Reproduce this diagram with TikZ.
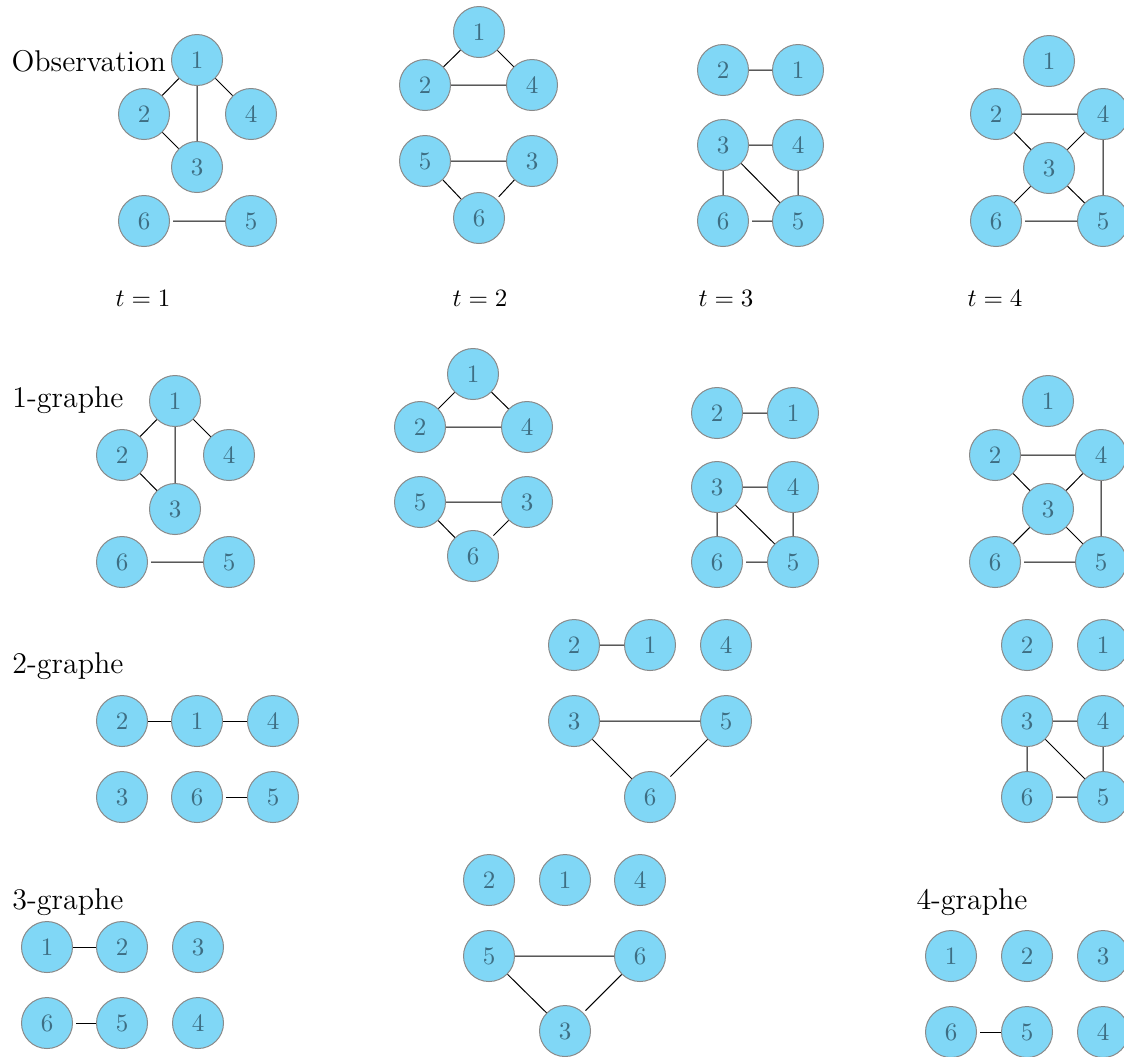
\documentclass[tikz,border=0pt]{standalone}
\usepackage{xcolor}
\usepackage{tikz}

\begin{document}
\begin{tikzpicture}[x=0.4pt,y=-0.4pt,
  sommet/.style={circle, draw=bordGris, fill=bleuSommet, text=texteSommet,
    minimum size=20.4pt, inner sep=0pt},
  arete/.style={draw=black, line width=0.4pt, shorten <=1.2pt},
  titre/.style={anchor=base west, inner sep=0pt, font=\large}]

% Couleurs
\definecolor{bleuSommet}{HTML}{80D7F6}
\definecolor{bordGris}{HTML}{8A8A8A}
\definecolor{texteSommet}{HTML}{3E6E83}

\useasboundingbox (0,0) rectangle (1124,1056);
\clip (0,0) rectangle (1124,1056);

% Titres des lignes
\node[titre] (lObs) at (11,71) {Observation};
\node[titre] (lUn) at (12,407) {1-graphe};
\node[titre] (lDeux) at (12,673) {2-graphe};
\node[titre] (lTrois) at (12,909) {3-graphe};
\node[titre] (lQuatre) at (916,909) {4-graphe};

% Instants
\node[anchor=base] (t1) at (143,306) {$t=1$};
\node[anchor=base] (t2) at (480,306) {$t=2$};
\node[anchor=base] (t3) at (726,306) {$t=3$};
\node[anchor=base] (t4) at (995,306) {$t=4$};

% Observation, t=1
\node[sommet] (o1v1) at (197,60) {$1$};
\node[sommet] (o1v2) at (144,114) {$2$};
\node[sommet] (o1v4) at (251,114) {$4$};
\node[sommet] (o1v3) at (197,167) {$3$};
\node[sommet] (o1v6) at (144,221) {$6$};
\node[sommet] (o1v5) at (251,221) {$5$};
\draw[arete] (o1v2) -- (o1v1) (o1v1) -- (o1v3) (o1v4) -- (o1v1)
  (o1v2) -- (o1v3) (o1v6) -- (o1v5);

% Observation, t=2
\node[sommet] (o2v1) at (479,32) {$1$};
\node[sommet] (o2v2) at (425,85) {$2$};
\node[sommet] (o2v4) at (532,85) {$4$};
\node[sommet] (o2v5) at (425,161) {$5$};
\node[sommet] (o2v3) at (532,161) {$3$};
\node[sommet] (o2v6) at (479,218) {$6$};
\draw[arete] (o2v2) -- (o2v1) (o2v1) -- (o2v4) (o2v2) -- (o2v4)
  (o2v5) -- (o2v3) (o2v5) -- (o2v6) (o2v6) -- (o2v3);

% Observation, t=3
\node[sommet] (o3v2) at (723,70) {$2$};
\node[sommet] (o3v1) at (798,70) {$1$};
\node[sommet] (o3v3) at (723,145) {$3$};
\node[sommet] (o3v4) at (798,145) {$4$};
\node[sommet] (o3v6) at (723,221) {$6$};
\node[sommet] (o3v5) at (798,221) {$5$};
\draw[arete] (o3v2) -- (o3v1) (o3v4) -- (o3v3) (o3v3) -- (o3v6)
  (o3v3) -- (o3v5) (o3v4) -- (o3v5) (o3v6) -- (o3v5);

% Observation, t=4
\node[sommet] (o4v1) at (1049,61) {$1$};
\node[sommet] (o4v2) at (996,114) {$2$};
\node[sommet] (o4v4) at (1103,114) {$4$};
\node[sommet] (o4v3) at (1049,168) {$3$};
\node[sommet] (o4v6) at (996,221) {$6$};
\node[sommet] (o4v5) at (1103,221) {$5$};
\draw[arete] (o4v2) -- (o4v4) (o4v2) -- (o4v3) (o4v3) -- (o4v4)
  (o4v4) -- (o4v5) (o4v3) -- (o4v6) (o4v3) -- (o4v5) (o4v6) -- (o4v5);

% 1-graphe, t=1
\node[sommet] (u1v1) at (175,401) {$1$};
\node[sommet] (u1v2) at (122,455) {$2$};
\node[sommet] (u1v4) at (229,455) {$4$};
\node[sommet] (u1v3) at (175,509) {$3$};
\node[sommet] (u1v6) at (122,562) {$6$};
\node[sommet] (u1v5) at (229,562) {$5$};
\draw[arete] (u1v2) -- (u1v1) (u1v1) -- (u1v3) (u1v4) -- (u1v1)
  (u1v2) -- (u1v3) (u1v6) -- (u1v5);

% 1-graphe, t=2
\node[sommet] (u2v1) at (473,374) {$1$};
\node[sommet] (u2v2) at (420,427) {$2$};
\node[sommet] (u2v4) at (527,427) {$4$};
\node[sommet] (u2v5) at (420,502) {$5$};
\node[sommet] (u2v3) at (527,502) {$3$};
\node[sommet] (u2v6) at (473,556) {$6$};
\draw[arete] (u2v2) -- (u2v1) (u2v1) -- (u2v4) (u2v2) -- (u2v4)
  (u2v5) -- (u2v3) (u2v5) -- (u2v6) (u2v6) -- (u2v3);

% 1-graphe, t=3
\node[sommet] (u3v2) at (717,413) {$2$};
\node[sommet] (u3v1) at (793,413) {$1$};
\node[sommet] (u3v3) at (717,487) {$3$};
\node[sommet] (u3v4) at (793,487) {$4$};
\node[sommet] (u3v6) at (717,562) {$6$};
\node[sommet] (u3v5) at (793,562) {$5$};
\draw[arete] (u3v2) -- (u3v1) (u3v4) -- (u3v3) (u3v3) -- (u3v6)
  (u3v3) -- (u3v5) (u3v4) -- (u3v5) (u3v6) -- (u3v5);

% 1-graphe, t=4
\node[sommet] (u4v1) at (1048,401) {$1$};
\node[sommet] (u4v2) at (995,455) {$2$};
\node[sommet] (u4v4) at (1101,455) {$4$};
\node[sommet] (u4v3) at (1048,509) {$3$};
\node[sommet] (u4v6) at (995,562) {$6$};
\node[sommet] (u4v5) at (1101,562) {$5$};
\draw[arete] (u4v2) -- (u4v4) (u4v2) -- (u4v3) (u4v3) -- (u4v4)
  (u4v4) -- (u4v5) (u4v3) -- (u4v6) (u4v3) -- (u4v5) (u4v6) -- (u4v5);

% 2-graphe, gauche
\node[sommet] (d1v2) at (122,721) {$2$};
\node[sommet] (d1v1) at (197,721) {$1$};
\node[sommet] (d1v4) at (273,721) {$4$};
\node[sommet] (d1v3) at (122,797) {$3$};
\node[sommet] (d1v6) at (197,797) {$6$};
\node[sommet] (d1v5) at (273,797) {$5$};
\draw[arete] (d1v2) -- (d1v1) (d1v4) -- (d1v1) (d1v6) -- (d1v5);

% 2-graphe, milieu
\node[sommet] (d2v2) at (574,645) {$2$};
\node[sommet] (d2v1) at (650,645) {$1$};
\node[sommet] (d2v4) at (726,645) {$4$};
\node[sommet] (d2v3) at (574,721) {$3$};
\node[sommet] (d2v5) at (726,721) {$5$};
\node[sommet] (d2v6) at (650,797) {$6$};
\draw[arete] (d2v2) -- (d2v1) (d2v3) -- (d2v5) (d2v3) -- (d2v6)
  (d2v6) -- (d2v5);

% 2-graphe, droite
\node[sommet] (d4v2) at (1027,645) {$2$};
\node[sommet] (d4v1) at (1103,645) {$1$};
\node[sommet] (d4v3) at (1027,721) {$3$};
\node[sommet] (d4v4) at (1103,721) {$4$};
\node[sommet] (d4v6) at (1027,797) {$6$};
\node[sommet] (d4v5) at (1103,797) {$5$};
\draw[arete] (d4v3) -- (d4v4) (d4v3) -- (d4v6) (d4v3) -- (d4v5)
  (d4v4) -- (d4v5) (d4v6) -- (d4v5);

% 3-graphe, gauche
\node[sommet] (r1v1) at (47,947) {$1$};
\node[sommet] (r1v2) at (122,947) {$2$};
\node[sommet] (r1v3) at (198,947) {$3$};
\node[sommet] (r1v6) at (47,1023) {$6$};
\node[sommet] (r1v5) at (122,1023) {$5$};
\node[sommet] (r1v4) at (198,1023) {$4$};
\draw[arete] (r1v1) -- (r1v2) (r1v6) -- (r1v5);

% 3-graphe, milieu
\node[sommet] (r2v2) at (489,880) {$2$};
\node[sommet] (r2v1) at (565,880) {$1$};
\node[sommet] (r2v4) at (640,880) {$4$};
\node[sommet] (r2v5) at (489,956) {$5$};
\node[sommet] (r2v6) at (640,956) {$6$};
\node[sommet] (r2v3) at (565,1031) {$3$};
\draw[arete] (r2v5) -- (r2v6) (r2v5) -- (r2v3) (r2v3) -- (r2v6);

% 4-graphe
\node[sommet] (q4v1) at (951,956) {$1$};
\node[sommet] (q4v2) at (1027,956) {$2$};
\node[sommet] (q4v3) at (1103,956) {$3$};
\node[sommet] (q4v6) at (951,1032) {$6$};
\node[sommet] (q4v5) at (1027,1032) {$5$};
\node[sommet] (q4v4) at (1103,1032) {$4$};
\draw[arete] (q4v6) -- (q4v5);

\end{tikzpicture}
\end{document}
